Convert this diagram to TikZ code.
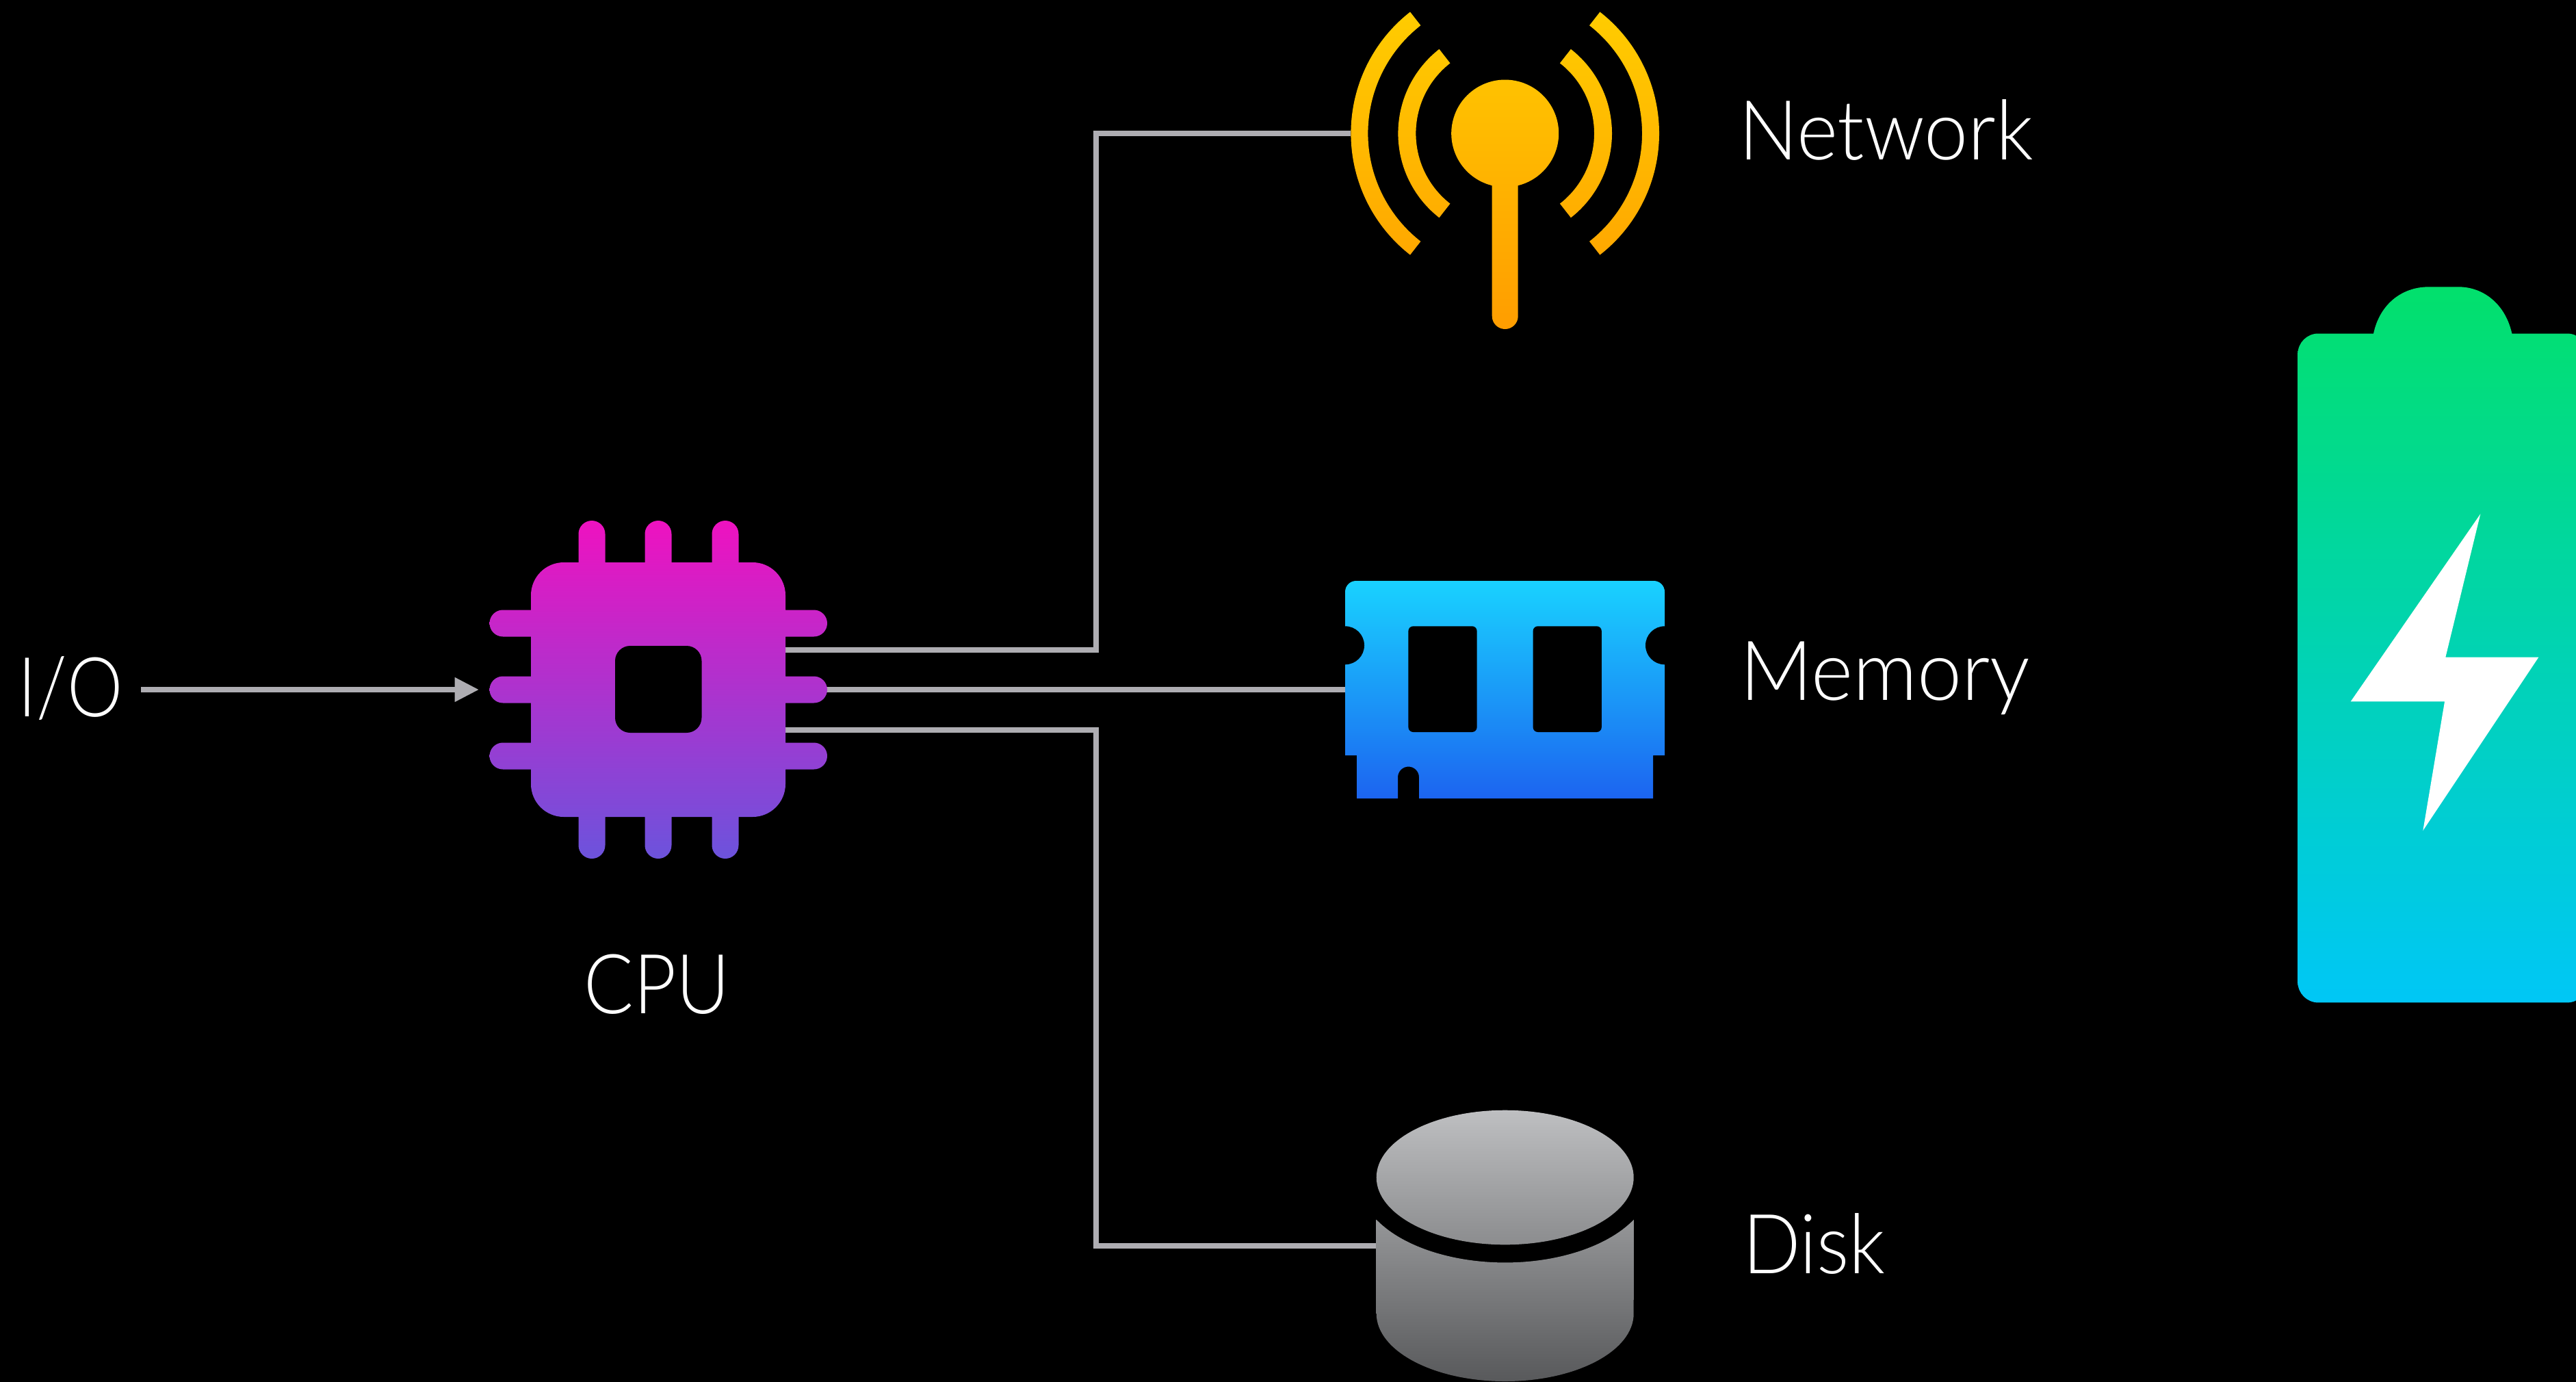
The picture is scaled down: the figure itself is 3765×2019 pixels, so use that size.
\documentclass[tikz,border=0pt]{standalone}
\usepackage{fontspec}
\setmainfont{Lato Light}
\newfontfamily\fnet[FakeStretch=0.95]{Lato Light}
\newfontfamily\fmem[FakeStretch=0.965]{Lato Light}
\newfontfamily\fdisk[FakeStretch=0.92]{Lato Light}
\newfontfamily\fcpu[FakeStretch=0.89]{Lato Light}
\newfontfamily\fio[FakeStretch=0.85]{Lato Light}
\usetikzlibrary{arrows.meta}
\definecolor{conncol}{HTML}{AEADB2}
\definecolor{chipT}{HTML}{EE12C0}\definecolor{chipB}{HTML}{6C53DC}
\definecolor{wifiT}{HTML}{FFCC00}\definecolor{wifiB}{HTML}{FF9D00}
\definecolor{memT}{HTML}{19D2FF}\definecolor{memB}{HTML}{1C64F0}
\definecolor{diskT}{HTML}{BEBFC1}\definecolor{diskB}{HTML}{58595B}
\definecolor{batT}{HTML}{02E06C}\definecolor{batB}{HTML}{00C7F6}
\tikzset{
  iconbox/.style={inner sep=0pt,outer sep=0pt},
  conn/.style={draw=conncol,line width=8pt},
  lbl/.style={inner sep=0pt,outer sep=0pt,text=white,anchor=base west},
}
\newcommand{\lblsize}{\fontsize{121}{121}\selectfont}
\begin{document}
\begin{tikzpicture}[x=1pt,y=1pt,yscale=-1]
\useasboundingbox (0,0) rectangle (3765,2019);
\fill[black] (-6,-6) rectangle (3771,2025);
% icon anchors
\node[iconbox,minimum width=372pt,minimum height=372pt] (cpu) at (962,1008) {};
\node[iconbox,minimum width=451pt,minimum height=450pt] (net) at (2199.5,195) {};
\node[iconbox,minimum width=467pt,minimum height=300pt] (mem) at (2199.5,1008) {};
\node[iconbox,minimum width=376pt,minimum height=300pt] (disk) at (2199.7,1820.7) {};
\coordinate (cpuN) at (1148,949.6);
\coordinate (cpuS) at (1148,1067);
\coordinate (busN) at (1601.5,195);
\coordinate (busS) at (1601.5,1820.7);
\coordinate (ioOut) at (206,1008);
\coordinate (cpuIn) at (700,1008);
% labels
\node[lbl] (netL) at (2541,233) {\fnet\lblsize Network};
\node[lbl] (memL) at (2543,1023) {\fmem\lblsize Memory};
\node[lbl] (diskL) at (2547,1861) {\fdisk\lblsize Disk};
\node[lbl] (ioL) at (27,1047) {\fio\lblsize I/O};
\node[lbl,anchor=base] (cpuL) at (960,1481) {\fcpu\lblsize CPU};
% connectors
\draw[conn] (cpuN) -| (busN) -- (net.west);
\draw[conn] (cpu.east) -- (mem.west);
\draw[conn] (cpuS) -| (busS) -- (disk.west);
\draw[conn,-{Triangle[length=35.5pt,width=34pt]}] (ioOut) -- (cpuIn);
% chip
\begin{scope}
\clip
 [rounded corners=48pt] (776,822) rectangle (1148,1194)
 [rounded corners=19.5pt]
 (845.5,761) rectangle (884.5,1255)
 (942.5,761) rectangle (981.5,1255)
 (1040.5,761) rectangle (1079.5,1255)
 (715.5,891.5) rectangle (1209,930.5)
 (715.5,988.5) rectangle (1209,1027.5)
 (715.5,1085.5) rectangle (1209,1124.5);
\shade[top color=chipT,bottom color=chipB] (700,761) rectangle (1220,1255);
\end{scope}
\fill[black,rounded corners=22pt] (899,944) rectangle (1025.5,1071);
% antenna
\begin{scope}
\clip
 (2180.7,271.2) arc[start angle=104,end angle=436,radius=78.5pt]
 -- (2218.7,462) arc[start angle=0,end angle=180,radius=19pt] -- cycle
 (2199.7,195) ++(128:156.3pt) arc[start angle=128,end angle=232,radius=156.3pt]
   -- ++(52:26pt) arc[start angle=232,end angle=128,radius=130.3pt] -- cycle
 (2199.7,195) ++(-52:156.3pt) arc[start angle=-52,end angle=52,radius=156.3pt]
   -- ++(232:26pt) arc[start angle=52,end angle=-52,radius=130.3pt] -- cycle
 (2199.7,195) ++(128:225.3pt) arc[start angle=128,end angle=232,radius=225.3pt]
   -- ++(52:25pt) arc[start angle=232,end angle=128,radius=200.3pt] -- cycle
 (2199.7,195) ++(-52:225.3pt) arc[start angle=-52,end angle=52,radius=225.3pt]
   -- ++(232:25pt) arc[start angle=52,end angle=-52,radius=200.3pt] -- cycle;
\shade[top color=wifiT,bottom color=wifiB] (1960,17) rectangle (2440,481);
\end{scope}
% memory
\begin{scope}
\clip (1966,1104) -- (1966,865) arc[start angle=180,end angle=270,radius=16pt]
 -- (2417,849) arc[start angle=270,end angle=360,radius=16pt]
 -- (2433,1104) -- (2416,1104) -- (2416,1167) -- (2074,1167) -- (2074,1136)
 arc[start angle=0,end angle=-180,radius=15.5pt] -- (2043,1167) -- (1983,1167) -- (1983,1104) -- cycle;
\shade[top color=memT,bottom color=memB] (1960,849) rectangle (2440,1167);
\end{scope}
\fill[black] (1966,943.3) circle[radius=28pt] (2433,943.3) circle[radius=28pt];
\fill[black,rounded corners=7pt] (2058.4,915.3) rectangle (2158.6,1070) (2240.6,915.3) rectangle (2340.8,1070);
% disk
\begin{scope}
\clip (2199.7,1721) ellipse[x radius=188pt,y radius=98.3pt]
 (2011.7,1782.7) arc[start angle=151.5,end angle=28.5,x radius=214pt,y radius=119.9pt]
 -- (2387.7,1920) arc[start angle=0,end angle=180,x radius=188pt,y radius=99pt] -- cycle;
\shade[top color=diskT,bottom color=diskB] (2000,1622.7) rectangle (2400,2019);
\end{scope}
% battery
\begin{scope}
\clip (3358.3,1435.4) -- (3358.3,517.5) arc[start angle=180,end angle=270,radius=30pt]
 -- (3469,487.5) .. controls (3478,445) and (3510,419.3) .. (3550,419.3)
 -- (3593,419.3) .. controls (3630,419.3) and (3662,445) .. (3671.3,487.5)
 -- (3752,487.5) arc[start angle=270,end angle=360,radius=30pt]
 -- (3782,1435.4) arc[start angle=0,end angle=90,radius=30pt]
 -- (3388.3,1465.4) arc[start angle=90,end angle=180,radius=30pt] -- cycle;
\shade[top color=batT,bottom color=batB] (3350,419.3) rectangle (3790,1465.4);
\end{scope}
\fill[white] (3625.3,751.2) -- (3574.3,960.6) -- (3710.3,960.6) -- (3541.3,1214) -- (3573,1025.3) -- (3435.7,1025.3) -- cycle;
\end{tikzpicture}
\end{document}
